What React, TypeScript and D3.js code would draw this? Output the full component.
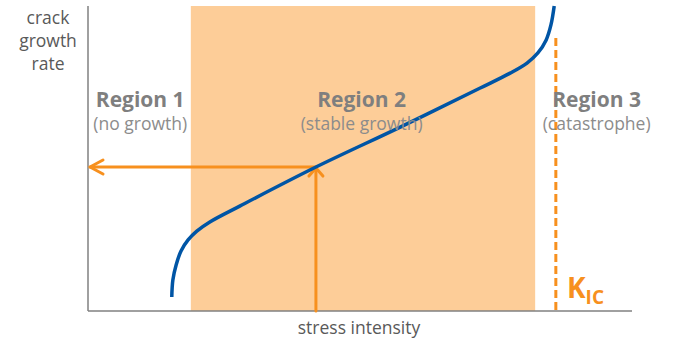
import React from 'react';
import * as d3 from 'd3';

// curve points (stress intensity, crack growth rate) in arbitrary units
const curveK = [1.54, 1.56, 1.62, 1.71, 1.84, 2.0, 2.24, 2.79, 4.19, 5.74, 7.21, 7.76, 8.07, 8.27, 8.42, 8.51, 8.57];
const curveRate = [0.46, 1.02, 1.51, 1.97, 2.33, 2.62, 2.92, 3.44, 4.72, 6.03, 7.31, 7.8, 8.13, 8.46, 8.88, 9.38, 10.0];

const regionLabels = ['Region 1', 'Region 2', 'Region 3'];
const regionNotes = ['(no growth)', '(stable growth)', '(catastrophe)'];
const regionCenters = [0.96, 5.03, 9.35];
const stableStart = 1.89;
const stableEnd = 8.22;
const kic = 8.6;
const kicTop = 8.95;
const probeK = 4.19;
const probeRate = 4.72;

const W = 694;
const H = 351;
const orange = '#f7901e';
const blue = '#0055a5';

export default function App() {
  const x = d3.scaleLinear().domain([0, 10]).range([88, 632]);
  const y = d3.scaleLinear().domain([0, 10]).range([311, 6]);

  const pts: [number, number][] = curveK.map((k, i) => [k, curveRate[i]]);
  const line = d3
    .line<[number, number]>()
    .x((d) => x(d[0]))
    .y((d) => y(d[1]))
    .curve(d3.curveCatmullRom.alpha(0.5));

  const px = x(probeK);
  const py = y(probeRate);
  const font = "'Segoe UI', 'Open Sans', 'Noto Sans', sans-serif";

  return (
    <svg width={W} height={H} style={{ position: 'absolute', left: 0, top: 0, background: '#fff' }}>
      {/* stable growth band */}
      <rect x={x(stableStart)} y={y(10)} width={x(stableEnd) - x(stableStart)} height={y(0) - y(10)} fill="#fdcd98" />

      {/* axes */}
      <line x1={x(0)} y1={y(10)} x2={x(0)} y2={y(0)} stroke="#808080" strokeWidth={1.5} />
      <line x1={x(0)} y1={y(0)} x2={x(10)} y2={y(0)} stroke="#808080" strokeWidth={1.5} />

      {/* K_IC dashed line */}
      <line x1={x(kic)} y1={y(kicTop)} x2={x(kic)} y2={y(0)} stroke={orange} strokeWidth={3} strokeDasharray="8,4" />

      {/* arrows */}
      <g stroke={orange} strokeWidth={3} fill="none" strokeLinecap="round" strokeLinejoin="round">
        <line x1={px} y1={y(0)} x2={px} y2={py + 1} />
        <polyline points={`${px - 7},${py + 9} ${px},${py + 1} ${px + 7},${py + 9}`} />
        <line x1={px} y1={py} x2={x(0) + 2} y2={py} />
        <polyline points={`${x(0) + 15},${py - 7} ${x(0) + 2},${py} ${x(0) + 15},${py + 7}`} />
      </g>

      {/* curve */}
      <path d={line(pts) || ''} fill="none" stroke={blue} strokeWidth={3.5} strokeLinecap="butt" />

      {/* region labels */}
      {regionLabels.map((r, i) => (
        <g key={r} fontFamily={font} textAnchor="middle">
          <text x={x(regionCenters[i])} y={107} fontSize={21} fontWeight="bold" fill="#7f7f7f">{r}</text>
          <text x={x(regionCenters[i])} y={130} fontSize={17.5} fill="#8c8c8c">{regionNotes[i]}</text>
        </g>
      ))}

      {/* axis titles */}
      <g fontFamily={font} fontSize={17.5} fill="#595959" textAnchor="middle">
        <text x={48} y={24}>crack</text>
        <text x={48} y={47}>growth</text>
        <text x={48} y={70}>rate</text>
        <text x={359} y={334}>stress intensity</text>
      </g>

      {/* K_IC label */}
      <text x={567} y={298} fontFamily={font} fontWeight="bold" fill={orange} fontSize={28}>
        K<tspan fontSize={19} dy={6}>IC</tspan>
      </text>
    </svg>
  );
}
